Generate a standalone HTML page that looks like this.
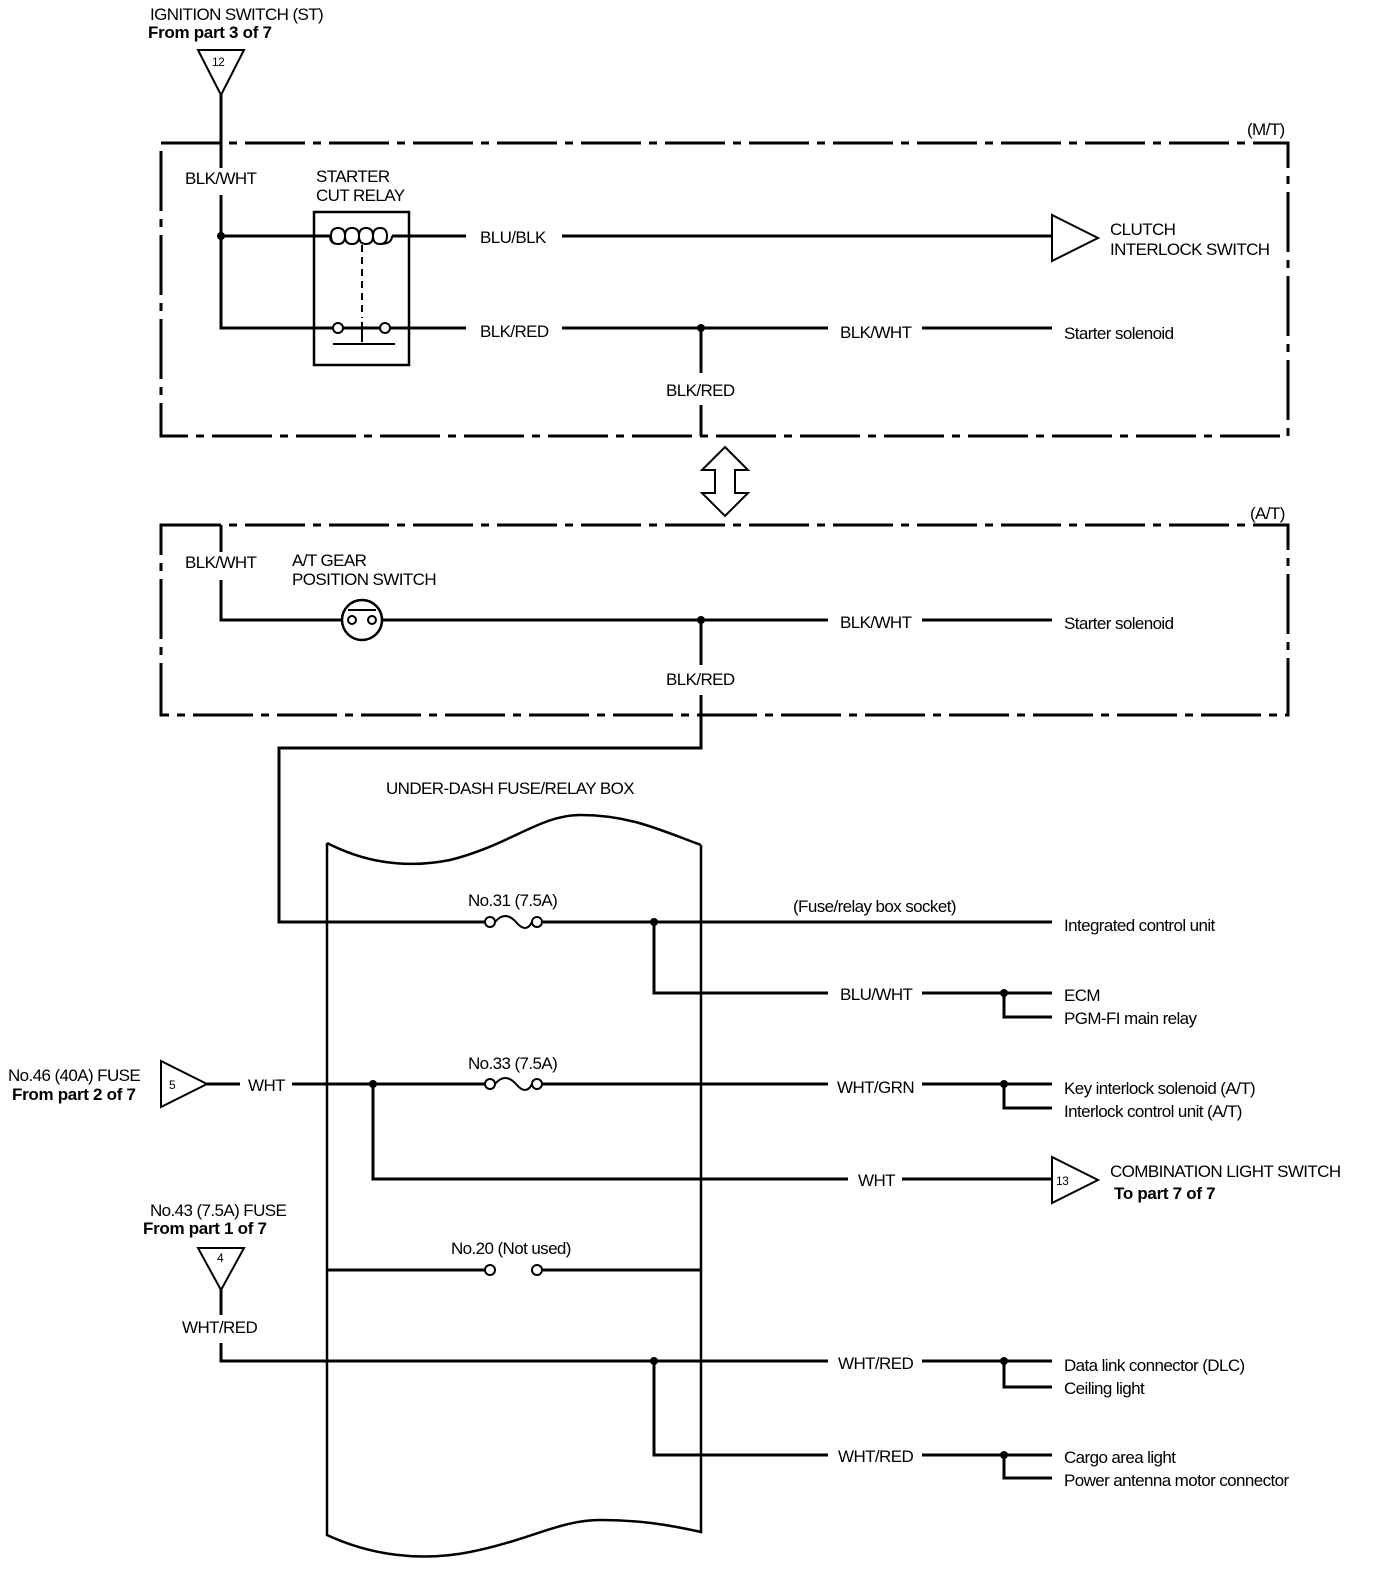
<!DOCTYPE html>
<html><head><meta charset="utf-8"><style>
html,body{margin:0;padding:0;background:#fff}
svg{display:block}
text{font-family:"Liberation Sans",sans-serif;font-size:17px;fill:#000;letter-spacing:-0.6px}
.b{font-weight:bold;letter-spacing:-0.3px}
</style></head><body>
<svg width="1376" height="1572" viewBox="0 0 1376 1572" xmlns="http://www.w3.org/2000/svg">
<g fill="none" stroke="#000" stroke-width="3">
<!-- top connector -->
<polygon points="198,50 244,50 221,95" stroke-width="2"/>
<path d="M221 95V168M221 195V328H333M343 328H380M390 328H466M562 328H828M922 328H1052"/>
<!-- M/T box -->
<path d="M161 143H1288V436H161Z" stroke-dasharray="60,8,8,8" stroke-width="3"/>
<!-- relay -->
<rect x="314" y="212" width="95" height="153" stroke-width="2.5"/>
<path d="M221 236H330M392 236H466M562 236H1052"/>
<path d="M330 236 q0 8 8 8 q-7 0 -7 -8 q0 -8 7 -8 q7 0 7 8 q0 8 -7 8 M345 236 q0 -8 7 -8 q7 0 7 8 q0 8 -7 8 q-7 0 -7 -8 M359 236 q0 -8 7 -8 q7 0 7 8 q0 8 -7 8 q-7 0 -7 -8 M373 236 q0 -8 7 -8 q7 0 7 8 q0 8 -7 8 q-7 0 -7 -8 M380 244 q12 0 12 -8" stroke-width="2"/>
<path d="M362 245V318" stroke-dasharray="7,5" stroke-width="2"/>
<path d="M362 322V342M333 344H395" stroke-width="2"/>
<circle cx="338" cy="328" r="5" stroke-width="2"/>
<circle cx="385" cy="328" r="5" stroke-width="2"/>
<polygon points="1052,215 1052,261 1098,238" stroke-width="2"/>
<path d="M701 328V373M701 405V436"/>
<!-- double arrow -->
<path d="M725 447 L748 470 H735 V493 H748 L725 516 L702 493 H715 V470 H702 Z" stroke-width="2"/>
<!-- A/T box -->
<path d="M161 525H1288V715H161Z" stroke-dasharray="60,8,8,8"/>
<path d="M221 525V552M221 580V620H342M382 620H828M922 620H1052"/>
<circle cx="362" cy="620" r="20" stroke-width="2.5"/>
<circle cx="352" cy="620" r="4" stroke-width="2"/>
<circle cx="372" cy="620" r="4" stroke-width="2"/>
<path d="M348 610H376" stroke-width="2"/>
<path d="M701 620V665M701 695V748H279V922H485M495 922 M543 922H1052"/>
<!-- fuse box -->
<path d="M327 843 C360 860 400 870 450 860 C510 845 540 815 580 815 C630 815 660 830 701 845 M327 843V1535 C370 1555 420 1562 470 1552 C530 1540 560 1520 600 1520 C640 1520 670 1525 701 1532 V845" stroke-width="2.5"/>
<!-- fuses -->
<g stroke-width="2"><circle cx="490" cy="922" r="5"/><circle cx="537" cy="922" r="5"/><path d="M495 922 q10 -12 21 0 q10 12 16 0"/>
<circle cx="490" cy="1084" r="5"/><circle cx="537" cy="1084" r="5"/><path d="M495 1084 q10 -12 21 0 q10 12 16 0"/>
<circle cx="490" cy="1270" r="5"/><circle cx="537" cy="1270" r="5"/></g>
<path d="M654 922V993H828M922 993H1004V1017H1052M1004 993H1052"/>
<polygon points="161,1061 161,1107 207,1084" stroke-width="2"/>
<path d="M207 1084H240M292 1084H485M542 1084H828M922 1084H1004V1108H1052M1004 1084H1052"/>
<path d="M373 1084V1179H848M902 1179H1052"/>
<polygon points="1052,1157 1052,1203 1098,1180" stroke-width="2"/>
<path d="M327 1270H485M542 1270H701"/>
<polygon points="198,1248 244,1248 221,1290" stroke-width="2"/>
<path d="M221 1290V1315M221 1343V1361H828M922 1361H1004V1387H1052M1004 1361H1052"/>
<path d="M654 1361V1455H828M922 1455H1004V1478H1052M1004 1455H1052"/>
</g>
<g fill="#000">
<circle cx="221" cy="236" r="4"/><circle cx="701" cy="328" r="4"/><circle cx="701" cy="620" r="4"/>
<circle cx="654" cy="922" r="4"/><circle cx="1004" cy="993" r="4"/><circle cx="373" cy="1084" r="4"/><circle cx="1004" cy="1084" r="4"/>
<circle cx="654" cy="1361" r="4"/><circle cx="1004" cy="1361" r="4"/><circle cx="1004" cy="1455" r="4"/>
</g>
<text x="150" y="20">IGNITION SWITCH (ST)</text>
<text x="148" y="38" class="b">From part 3 of 7</text>
<text x="212" y="66" style="font-size:12px">12</text>
<text x="1247" y="135">(M/T)</text>
<text x="185" y="184">BLK/WHT</text>
<text x="316" y="182">STARTER</text>
<text x="316" y="201">CUT RELAY</text>
<text x="480" y="243">BLU/BLK</text>
<text x="1110" y="235">CLUTCH</text>
<text x="1110" y="255">INTERLOCK SWITCH</text>
<text x="480" y="337">BLK/RED</text>
<text x="840" y="338">BLK/WHT</text>
<text x="1064" y="339">Starter solenoid</text>
<text x="666" y="396">BLK/RED</text>
<text x="1250" y="519">(A/T)</text>
<text x="185" y="568">BLK/WHT</text>
<text x="292" y="566">A/T GEAR</text>
<text x="292" y="585">POSITION SWITCH</text>
<text x="840" y="628">BLK/WHT</text>
<text x="1064" y="629">Starter solenoid</text>
<text x="666" y="685">BLK/RED</text>
<text x="386" y="794">UNDER-DASH FUSE/RELAY BOX</text>
<text x="468" y="906">No.31 (7.5A)</text>
<text x="793" y="912">(Fuse/relay box socket)</text>
<text x="1064" y="931">Integrated control unit</text>
<text x="840" y="1000">BLU/WHT</text>
<text x="1064" y="1001">ECM</text>
<text x="1064" y="1024">PGM-FI main relay</text>
<text x="8" y="1081">No.46 (40A) FUSE</text>
<text x="12" y="1100" class="b">From part 2 of 7</text>
<text x="169" y="1089" style="font-size:12px">5</text>
<text x="248" y="1091">WHT</text>
<text x="468" y="1069">No.33 (7.5A)</text>
<text x="837" y="1093">WHT/GRN</text>
<text x="1064" y="1094">Key interlock solenoid (A/T)</text>
<text x="1064" y="1117">Interlock control unit (A/T)</text>
<text x="858" y="1186">WHT</text>
<text x="1056" y="1185" style="font-size:12px">13</text>
<text x="1110" y="1177">COMBINATION LIGHT SWITCH</text>
<text x="1114" y="1199" class="b">To part 7 of 7</text>
<text x="150" y="1216">No.43 (7.5A) FUSE</text>
<text x="143" y="1234" class="b">From part 1 of 7</text>
<text x="217" y="1262" style="font-size:12px">4</text>
<text x="451" y="1254">No.20 (Not used)</text>
<text x="182" y="1333">WHT/RED</text>
<text x="838" y="1369">WHT/RED</text>
<text x="1064" y="1371">Data link connector (DLC)</text>
<text x="1064" y="1394">Ceiling light</text>
<text x="838" y="1462">WHT/RED</text>
<text x="1064" y="1463">Cargo area light</text>
<text x="1064" y="1486">Power antenna motor connector</text>
</svg>
</body></html>
